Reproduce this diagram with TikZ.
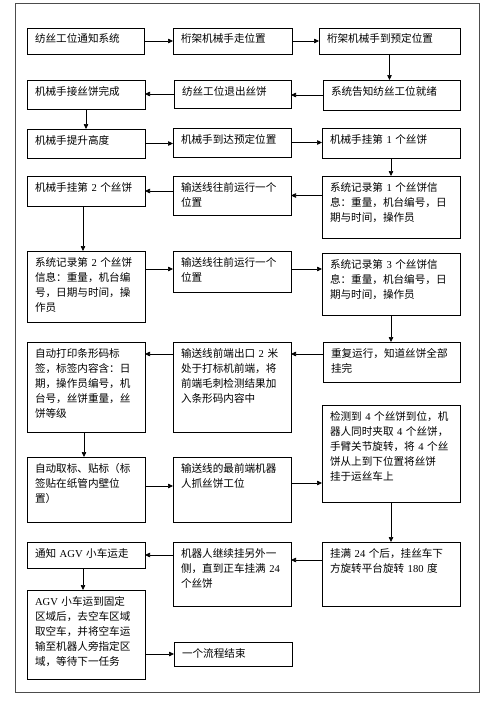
\documentclass[tikz,border=0pt]{standalone}
\usepackage{fontspec}
\usetikzlibrary{arrows.meta,calc}
\newfontfamily\cjk{Noto Sans CJK SC}
\newfontfamily\lat{Liberation Serif}
\newcommand\ltn[1]{{\lat #1}}
\newcommand\mybox[6]{%
  \pgfmathsetmacro\bw{#4-#2-16}%
  \pgfmathsetmacro\bd{#5-#3-15}%
  \node[bx, text width=\bw pt, text depth=\bd pt] (#1) at (#2,#3) {#6};}
\tikzset{
  bx/.style={draw=black, line width=0.7pt, anchor=north west, align=left,
    inner xsep=8pt, inner ysep=0pt, outer sep=0pt, text height=15pt,
    font=\cjk\fontsize{10.6}{15}\selectfont},
  arr/.style={draw=black, line width=0.7pt, -{Triangle[length=5pt,width=4.5pt]}},
  frame/.style={draw=black!70, line width=1pt}
}
\begin{document}
\begin{tikzpicture}[x=1pt,y=-1pt]
\useasboundingbox[fill=white] (0,0) rectangle (500,701);
\node[frame, rectangle, minimum width=464pt, minimum height=688pt, anchor=north west, inner sep=0pt, outer sep=0pt] (fr) at (15,4) {};
\mybox{A}{27}{28}{144}{54}{纺丝工位通知系统}
\mybox{B}{173}{28}{292}{54}{桁架机械手走位置}
\mybox{C}{319}{28}{460}{54}{桁架机械手到预定位置}
\mybox{D}{27}{80}{145}{109}{机械手接丝饼完成}
\mybox{E}{174}{80}{291}{108}{纺丝工位退出丝饼}
\mybox{F}{323}{80}{460}{110}{系统告知纺丝工位就绪}
\mybox{G}{27}{129}{145}{158}{机械手提升高度}
\mybox{H}{173}{128}{291}{157}{机械手到达预定位置}
\mybox{I}{322}{128}{460}{158}{机械手挂第 \ltn{1} 个丝饼}
\mybox{J}{27}{176}{145}{206}{机械手挂第 \ltn{2} 个丝饼}
\mybox{K}{173}{176}{291}{215}{输送线往前运行一个\\位置}
\mybox{L}{322}{176}{460}{238}{系统记录第 \ltn{1} 个丝饼信\\息：重量，机台编号，日\\期与时间，操作员}
\mybox{M}{27}{251}{145}{322}{系统记录第 \ltn{2} 个丝饼\\信息：重量，机台编\\号，日期与时间，操\\作员}
\mybox{N}{173}{251}{291}{292}{输送线往前运行一个\\位置}
\mybox{O}{322}{253}{460}{315}{系统记录第 \ltn{3} 个丝饼信\\息：重量，机台编号，日\\期与时间，操作员}
\mybox{P}{323}{342}{460}{382}{重复运行，知道丝饼全部\\挂完}
\mybox{Q}{173}{342}{291}{432}{输送线前端出口 \ltn{2} 米\\处于打标机前端，将\\前端毛刺检测结果加\\入条形码内容中}
\mybox{R}{27}{342}{145}{432}{自动打印条形码标\\签，标签内容含：日\\期，操作员编号，机\\台号，丝饼重量，丝\\饼等级}
\mybox{S}{27}{457}{145}{522}{自动取标、贴标（标\\签贴在纸管内壁位\\置）}
\mybox{T}{173}{457}{291}{522}{输送线的最前端机器\\人抓丝饼工位}
\mybox{U}{322}{405}{460}{502}{检测到 \ltn{4} 个丝饼到位，机\\器人同时夹取 \ltn{4} 个丝饼，\\手臂关节旋转，将 \ltn{4} 个丝\\饼从上到下位置将丝饼\\挂于运丝车上}
\mybox{V}{322}{542}{460}{606}{挂满 \ltn{24} 个后，挂丝车下\\方旋转平台旋转 \ltn{180} 度}
\mybox{W}{173}{542}{291}{606}{机器人继续挂另外一\\侧，直到正车挂满 \ltn{24}\\个丝饼}
\mybox{X}{27}{542}{145}{568}{通知 \ltn{AGV} 小车运走}
\mybox{Y}{27}{590}{145}{679}{\ltn{AGV} 小车运到固定\\区域后，去空车区域\\取空车，并将空车运\\输至机器人旁指定区\\域，等待下一任务}
\mybox{Z}{174}{642}{292}{666}{一个流程结束}
% connectors
\draw[arr] (A.east) -- (A.east -| B.west);
\draw[arr] (B.east) -- (B.east -| C.west);
\draw[arr] (C.south) -- (C.south |- F.north);
\draw[arr] (F.west) -- (F.west -| E.east);
\draw[arr] (E.west) -- (E.west -| D.east);
\draw[arr] (D.south) -- (D.south |- G.north);
\draw[arr] (G.east) -- (G.east -| H.west);
\draw[arr] (H.east) -- (H.east -| I.west);
\draw[arr] (I.south) -- (I.south |- L.north);
\draw[arr] (L.west |- K.east) -- (K.east);
\draw[arr] (K.west |- J.east) -- (J.east);
\draw[arr] ($(J.south)+(-3,0)$) -- ($(J.south |- M.north)+(-3,0)$);
\draw[arr] ($(M.north east)+(0,18)$) -- ($(N.north west)+(0,18)$);
\draw[arr] ($(N.north east)+(0,18)$) -- ($(O.north west)+(0,16)$);
\draw[arr] (O.south) -- (O.south |- P.north);
\draw[arr] ($(P.north west)+(0,12)$) -- ($(Q.north east)+(0,12)$);
\draw[arr] ($(Q.north west)+(0,12)$) -- ($(R.north east)+(0,12)$);
\draw[arr] ($(R.south)+(-2,0)$) -- ($(R.south |- S.north)+(-2,0)$);
\draw[arr] ($(S.north east)+(0,29)$) -- ($(T.north west)+(0,29)$);
\draw[arr] ($(T.north east)+(0,26)$) -- ($(U.north west)+(0,78)$);
\draw[arr] (U.south) -- (U.south |- V.north);
\draw[arr] ($(V.north west)+(0,18)$) -- ($(W.north east)+(0,18)$);
\draw[arr] (W.west |- X.east) -- (X.east);
\draw[arr] ($(X.south)+(-3,0)$) -- ($(X.south |- Y.north)+(-3,0)$);
\draw[arr] (Y.east |- Z.west) -- (Z.west);
\end{tikzpicture}
\end{document}
